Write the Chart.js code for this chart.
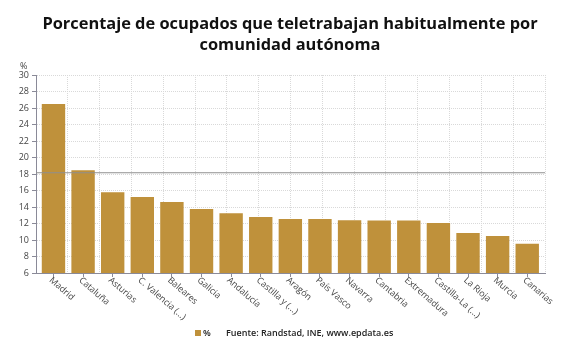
<!DOCTYPE html>
<html>
<head>
<meta charset="utf-8">
<script src="https://cdn.jsdelivr.net/npm/chart.js@4"></script>
<style>
html,body{margin:0;padding:0;background:#fff;}
#wrap{width:580px;height:341px;position:relative;}
</style>
</head>
<body>
<div id="wrap"><canvas id="c" width="580" height="341"></canvas></div>
<script>
const categories = ["Madrid","Cataluña","Asturias","C. Valencia (...)","Baleares","Galicia","Andalucía","Castilla y (...)","Aragón","País Vasco","Navarra","Cantabria","Extremadura","Castilla-La (...)","La Rioja","Murcia","Canarias"];
const values = [26.5,18.45,15.8,15.2,14.6,13.75,13.25,12.8,12.55,12.55,12.4,12.35,12.35,12.05,10.85,10.5,9.55];
const averageValue = [18.15];
const yTicks = [6,8,10,12,14,16,18,20,22,24,26,28,30];
const titleLines = ["Porcentaje de ocupados que teletrabajan habitualmente por","comunidad autónoma"];
const seriesName = "%";
const sourceText = "Fuente: Randstad, INE, www.epdata.es";

const BAR = '#BF913B';
const FONT = "'Open Sans', sans-serif";
const X_MIN = -0.59, X_MAX = 16.6;

const decor = {
  id: 'decor',
  afterDraw(chart) {
    const ctx = chart.ctx;
    const xs = chart.scales.x;
    const area = chart.chartArea;
    ctx.save();
    // title
    ctx.fillStyle = '#111';
    ctx.textAlign = 'center';
    ctx.textBaseline = 'middle';
    ctx.font = "bold 16.4px " + FONT;
    ctx.fillText(titleLines[0], 290, 24);
    ctx.fillText(titleLines[1], 290, 45);
    // % unit
    ctx.font = "9px " + FONT;
    ctx.fillStyle = '#444';
    ctx.textAlign = 'left';
    ctx.fillText('%', 20, 66);
    // x labels rotated
    ctx.font = "9px " + FONT;
    ctx.fillStyle = '#444';
    categories.forEach((lab, i) => {
      const x = xs.getPixelForValue(i);
      ctx.save();
      ctx.translate(x - 3, area.bottom + 6);
      ctx.rotate(41 * Math.PI / 180);
      ctx.textAlign = 'left';
      ctx.textBaseline = 'middle';
      ctx.fillText(lab, 0, 0);
      ctx.restore();
    });
    // legend
    ctx.fillStyle = BAR;
    ctx.fillRect(195, 330, 6, 6);
    ctx.fillStyle = '#222';
    ctx.font = "600 9px " + FONT;
    ctx.textBaseline = 'middle';
    ctx.textAlign = 'left';
    ctx.fillText(seriesName, 203, 333.5);
    ctx.fillText(sourceText, 226, 333.5);
    ctx.restore();
  }
};

new Chart(document.getElementById('c'), {
  type: 'bar',
  data: {
    datasets: [
      {
        type: 'line',
        label: 'media',
        data: [{x: X_MIN, y: averageValue[0]}, {x: X_MAX, y: averageValue[0]}],
        borderColor: '#8f8f8f',
        borderWidth: 1,
        pointRadius: 0,
        fill: false,
        order: 0
      },
      {
        label: seriesName,
        data: values.map((v, i) => ({x: i, y: v})),
        backgroundColor: BAR,
        borderWidth: 0,
        categoryPercentage: 1,
        barPercentage: 0.79,
        order: 1
      }
    ]
  },
  options: {
    responsive: false,
    animation: false,
    layout: {padding: {top: 75, right: 35, left: 0, bottom: 0}},
    plugins: {legend: {display: false}, title: {display: false}, tooltip: {enabled: false}},
    scales: {
      x: {
        type: 'linear',
        offset: false,
        min: X_MIN, max: X_MAX,
        afterBuildTicks(s) { s.ticks = categories.map((_, i) => ({value: i})); },
        afterFit(s) { s.height = 68; },
        ticks: {display: false},
        grid: {display: true, offset: false, drawOnChartArea: false, drawTicks: true, tickLength: 4, tickColor: '#8a8a98'},
        border: {display: true, color: '#8a8a98', width: 1}
      },
      x2: {
        type: 'linear',
        position: 'bottom',
        offset: false,
        min: 0, max: 16,
        afterBuildTicks(s) { const t = []; for (let i = 0; i <= 16; i++) t.push({value: i}); s.ticks = t; },
        afterFit(s) { s.height = 0; },
        ticks: {display: false},
        border: {display: false, dash: [1,1]},
        grid: {display: true, offset: false, drawTicks: false, color: '#d9d9d9', lineWidth: 1}
      },
      y: {
        min: 6, max: 30,
        afterBuildTicks(s) { s.ticks = yTicks.map(v => ({value: v})); },
        afterFit(s) { s.width = 36; },
        ticks: {color: '#444', font: {family: FONT, size: 9}, padding: 3},
        grid: {color: '#d9d9d9', tickLength: 4, tickColor: '#8a8a98'},
        border: {display: true, color: '#8a8a98', dash: [1,1]}
      }
    }
  },
  plugins: [decor]
});
</script>
</body>
</html>
